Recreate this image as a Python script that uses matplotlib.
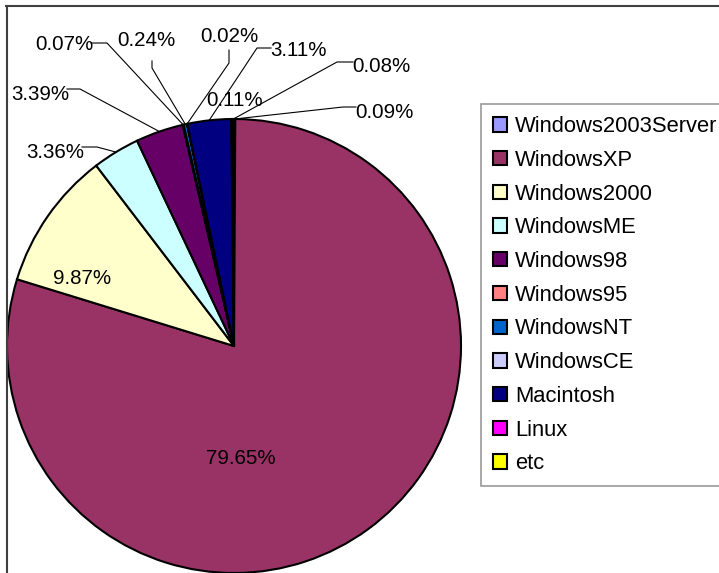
import matplotlib
matplotlib.use("Agg")
import matplotlib.pyplot as plt
from matplotlib.patches import Patch
from matplotlib.lines import Line2D
import numpy as np

# OS share data (clockwise from 12 o'clock)
os_names = ["Windows2003Server", "WindowsXP", "Windows2000", "WindowsME",
            "Windows98", "Windows95", "WindowsNT", "WindowsCE",
            "Macintosh", "Linux", "etc"]
shares = [0.09, 79.65, 9.87, 3.36, 3.39, 0.07, 0.24, 0.02, 3.11, 0.11, 0.08]
colors = ["#9999FF", "#993366", "#FFFFCC", "#CCFFFF", "#660066", "#FF8080",
          "#0066CC", "#CCCCFF", "#000080", "#FF00FF", "#FFFF00"]

W, H = 719, 573
CX, CY, R = 234, 346, 227   # pie centre / radius in pixels

# label centres in pixels, and leader (start, elbow) in pixels or None
label_pos = [(384, 112), (241, 459), (82, 278), (55, 152), (40, 95),
             (64, 44), (146, 40), (229, 36), (298, 51), (235, 100), (381, 67)]
leaders = [((356, 107), (343, 107)), None, None, ((82, 147), (97, 147)),
           ((67, 89), (80, 89)), ((91, 43), (107, 43)), ((152, 61), (152, 68)),
           ((229, 50), (229, 63)), ((271, 48), (257, 48)), None,
           ((353, 62), (337, 62))]


def px(p):
    return ((p[0] - CX) / R, (CY - p[1]) / R)


fig = plt.figure(figsize=(W / 100, H / 100), dpi=100)
ax = fig.add_axes([(CX - R) / W, (H - CY - R) / H, 2 * R / W, 2 * R / H])

wedges, _ = ax.pie(shares, colors=colors, startangle=90, counterclock=False,
                   wedgeprops=dict(edgecolor="black", linewidth=1.5))
ax.set_xlim(-1, 1)
ax.set_ylim(-1, 1)
ax.set_aspect("auto")
ax.axis("off")

lab_font = dict(family="Liberation Sans", size=14.8)
for w, val, pos, ld in zip(wedges, shares, label_pos, leaders):
    ax.text(*px(pos), f"{val:.2f}%", ha="center", va="center", **lab_font)
    if ld is not None:
        mid = np.deg2rad((w.theta1 + w.theta2) / 2)
        end = (np.cos(mid), np.sin(mid))
        a, b = px(ld[0]), px(ld[1])
        ax.plot([a[0], b[0], end[0]], [a[1], b[1], end[1]], color="black",
                lw=0.8, clip_on=False)

# chart frame (top and left edges visible)
fig.add_artist(Line2D([6 / W, 1], [1 - 5.5 / H, 1 - 5.5 / H], color="#404040", lw=1.5))
fig.add_artist(Line2D([6.5 / W, 6.5 / W], [0, 1 - 5.5 / H], color="#404040", lw=1.5))

handles = [Patch(facecolor=c, edgecolor="black", linewidth=1.5) for c in colors]
leg = fig.legend(handles, os_names, loc="upper left",
                 bbox_to_anchor=(481 / W, 1 - 104 / H), borderaxespad=0,
                 frameon=True, fancybox=False, edgecolor="#808080",
                 prop=dict(family="Liberation Sans", size=15.8),
                 handlelength=0.63, handleheight=0.63, handletextpad=0.38,
                 labelspacing=0.58, borderpad=0.55)
leg.get_frame().set_linewidth(1.2)

fig.savefig("out.png", dpi=100)
